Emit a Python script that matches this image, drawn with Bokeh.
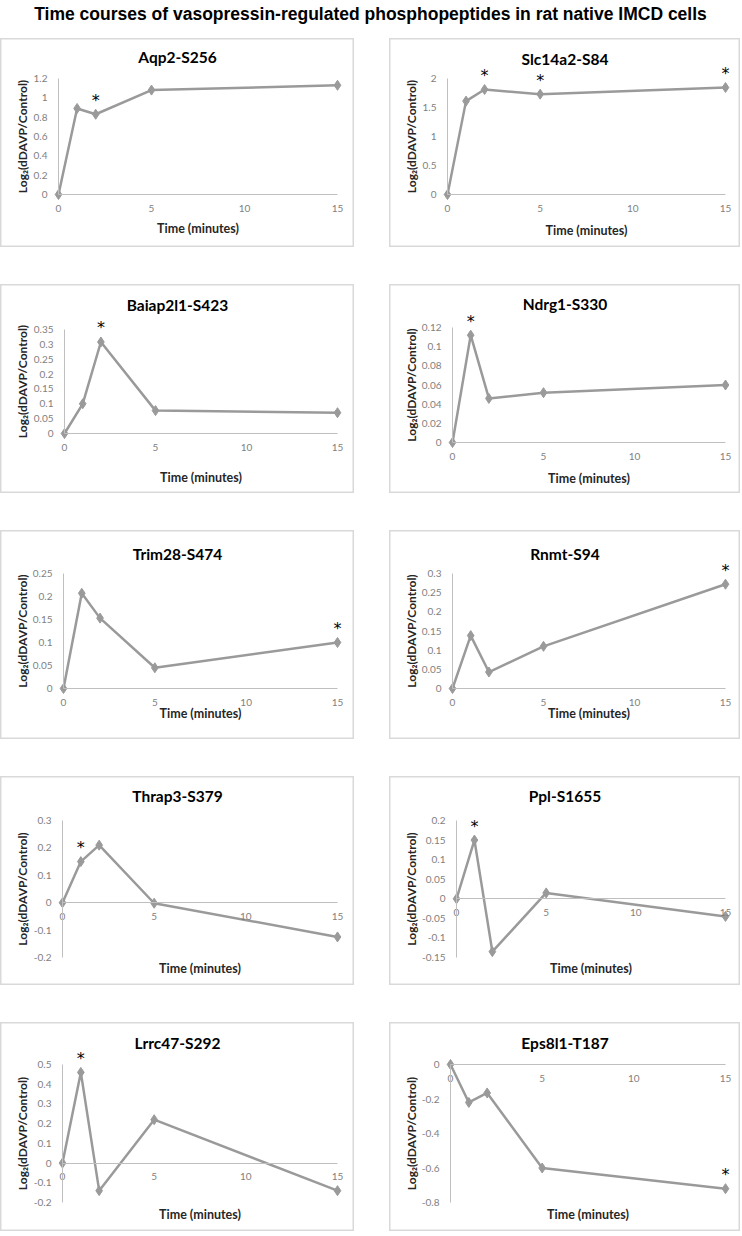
from bokeh.plotting import figure
from bokeh.models import (Range1d, FixedTicker, LinearAxis, NumeralTickFormatter,
                          ColumnDataSource, LabelSet, Label)
from bokeh.layouts import column, row
from bokeh.core.properties import value
from bokeh.embed import file_html
from bokeh.resources import INLINE

chart_title = "Time courses of vasopressin-regulated phosphopeptides in rat native IMCD cells"
times = [0, 1, 2, 5, 15]
x_ticks = [0, 5, 10, 15]
x_label = "Time (minutes)"
y_label = "Log\u2082(dDAVP/Control)"

names = ["Aqp2-S256", "Slc14a2-S84", "Baiap2l1-S423", "Ndrg1-S330", "Trim28-S474",
         "Rnmt-S94", "Thrap3-S379", "Ppl-S1655", "Lrrc47-S292", "Eps8l1-T187"]

aqp2 = [0, 0.89, 0.83, 1.08, 1.13]
slc14a2 = [0, 1.61, 1.81, 1.73, 1.845]
baiap2l1 = [0, 0.10, 0.308, 0.077, 0.070]
ndrg1 = [0, 0.112, 0.046, 0.052, 0.060]
trim28 = [0, 0.207, 0.153, 0.045, 0.100]
rnmt = [0, 0.138, 0.043, 0.110, 0.272]
thrap3 = [0, 0.150, 0.210, -0.002, -0.125]
ppl = [0, 0.150, -0.135, 0.015, -0.045]
lrrc47 = [0, 0.460, -0.140, 0.220, -0.140]
eps8l1 = [0, -0.220, -0.165, -0.600, -0.720]
series = [aqp2, slc14a2, baiap2l1, ndrg1, trim28, rnmt, thrap3, ppl, lrrc47, eps8l1]

# times marked with a significance star
stars = [[2], [2, 5, 15], [2], [1], [15], [15], [1], [1], [1], [15]]

y_ticks = [
    [0, 0.2, 0.4, 0.6, 0.8, 1, 1.2],
    [0, 0.5, 1, 1.5, 2],
    [0, 0.05, 0.1, 0.15, 0.2, 0.25, 0.3, 0.35],
    [0, 0.02, 0.04, 0.06, 0.08, 0.1, 0.12],
    [0, 0.05, 0.1, 0.15, 0.2, 0.25],
    [0, 0.05, 0.1, 0.15, 0.2, 0.25, 0.3],
    [-0.2, -0.1, 0, 0.1, 0.2, 0.3],
    [-0.15, -0.1, -0.05, 0, 0.05, 0.1, 0.15, 0.2],
    [-0.2, -0.1, 0, 0.1, 0.2, 0.3, 0.4, 0.5],
    [-0.8, -0.6, -0.4, -0.2, 0],
]
y_min = [0, 0, 0, 0, 0, 0, -0.2, -0.15, -0.2, -0.8]
y_max = [1.2, 2, 0.35, 0.12, 0.25, 0.3, 0.3, 0.2, 0.5, 0]

# ---- layout (pixels, relative to each panel's top-left corner) ----
PANEL_H = 209
LEFT_W, RIGHT_W = 354, 351
COL_GAP, ROW_GAP = 35, 37
TITLE_H = 38
plot_left = [58, 58, 64, 63, 63, 63, 62, 67, 62, 61]
plot_right = [337, 336, 337, 336, 337, 336, 337, 336, 337, 336]
plot_top = [40, 40, 45, 43, 43, 43, 44, 44, 42, 42]
plot_bottom = [156, 156, 149, 158, 158, 158, 181, 181, 180, 180]
title_cy = [18, 20, 20, 19, 23, 23, 19, 19, 20, 20]
xlab_cy = [190, 192, 193, 194, 183, 183, 192, 192, 192, 192]
YLAB_CX = 21

LINE_COL = "#9a9a9a"
AXIS_COL = "#bfbfbf"
TICK_COL = "#7f7f7f"
TEXT_COL = "#262626"
FONT = "Lato"


def base_axis(**kw):
    ax = LinearAxis(**kw)
    ax.major_tick_line_color = None
    ax.minor_tick_line_color = None
    ax.axis_line_color = AXIS_COL
    ax.major_label_text_font = FONT
    ax.major_label_text_font_size = "10px"
    ax.major_label_text_color = TICK_COL
    ax.axis_label_text_font = FONT
    ax.axis_label_text_font_size = "12.5px"
    ax.axis_label_text_font_style = "bold"
    ax.axis_label_text_color = TEXT_COL
    return ax


def make_panel(i, w):
    H = PANEL_H
    L, R, T, B = plot_left[i], plot_right[i], plot_top[i], plot_bottom[i]
    sx = 15.0 / (R - L)
    sy = (y_max[i] - y_min[i]) / (B - T)
    x0, x1 = -L * sx, 15 + (w - R) * sx
    y1, y0 = y_max[i] + T * sy, y_min[i] - (H - B) * sy

    def dx(px):
        return x0 + px * sx

    def dy(py):
        return y1 - py * sy

    p = figure(width=w, height=H, x_range=Range1d(x0, x1), y_range=Range1d(y0, y1),
               output_backend="svg", toolbar_location=None, title=None,
               x_axis_type=None, y_axis_type=None, min_border=0)
    p.outline_line_color = "#d9d9d9"
    p.outline_line_width = 2
    p.background_fill_color = "white"
    p.border_fill_color = "white"

    # value axis at x = 0
    yax = base_axis(fixed_location=0, bounds=(y_min[i], y_max[i]),
                    ticker=FixedTicker(ticks=y_ticks[i]),
                    formatter=NumeralTickFormatter(format="0.[00]"))
    yax.major_label_standoff = 5
    p.add_layout(yax, "left")

    # y axis title
    ylab = base_axis(fixed_location=dx(YLAB_CX + 8), bounds=(y_min[i], y_max[i]),
                     ticker=FixedTicker(ticks=[]), axis_label=y_label)
    ylab.axis_line_color = None
    ylab.major_label_standoff = 0
    ylab.axis_label_standoff = 0
    ylab.axis_label_text_font_size = "12px"
    p.add_layout(ylab, "left")

    # time axis at y = 0
    xax = base_axis(fixed_location=0, bounds=(0, 15), ticker=FixedTicker(ticks=x_ticks))
    xax.major_label_standoff = 4
    p.add_layout(xax, "below")

    # x axis title
    xlab = base_axis(fixed_location=dy(xlab_cy[i] - 8), bounds=(0, 15),
                     ticker=FixedTicker(ticks=[]), axis_label=x_label)
    xlab.axis_line_color = None
    xlab.major_label_standoff = 0
    xlab.axis_label_standoff = 0
    p.add_layout(xlab, "below")

    p.line(times, series[i], line_color=LINE_COL, line_width=2.5)
    p.scatter(times, series[i], marker="diamond", size=10, color=LINE_COL)

    st = stars[i]
    sv = [series[i][times.index(t)] for t in st]
    src = ColumnDataSource(dict(x=st, y=sv, t=["*"] * len(st)))
    p.add_layout(LabelSet(x="x", y="y", text="t", source=src, y_offset=14,
                          text_align="center", text_baseline="middle",
                          text_font=value("DejaVu Sans"), text_font_size=value("16px"),
                          text_color="black"))

    p.add_layout(Label(x=dx(w / 2), y=dy(title_cy[i]), text=names[i],
                       text_align="center", text_baseline="middle",
                       text_font=FONT, text_font_size="15.5px",
                       text_font_style="bold", text_color="black"))
    return p


tp = figure(width=LEFT_W + COL_GAP + RIGHT_W, height=TITLE_H, x_range=Range1d(0, 1),
            y_range=Range1d(0, TITLE_H), output_backend="svg", toolbar_location=None,
            x_axis_type=None, y_axis_type=None, min_border=0, title=None)
tp.outline_line_color = None
tp.xgrid.visible = False
tp.ygrid.visible = False
tp.text(x=[0.5], y=[TITLE_H - 13], text=[chart_title], text_align="center",
        text_baseline="middle", text_font=value("Liberation Sans"),
        text_font_size="17.5px", text_font_style="bold", text_color="black")

rows = []
for r in range(5):
    rows.append(row(make_panel(2 * r, LEFT_W), make_panel(2 * r + 1, RIGHT_W),
                    spacing=COL_GAP))

layout = column(tp, column(*rows, spacing=ROW_GAP), spacing=0)

open("out.html", "w").write(file_html(layout, INLINE))
